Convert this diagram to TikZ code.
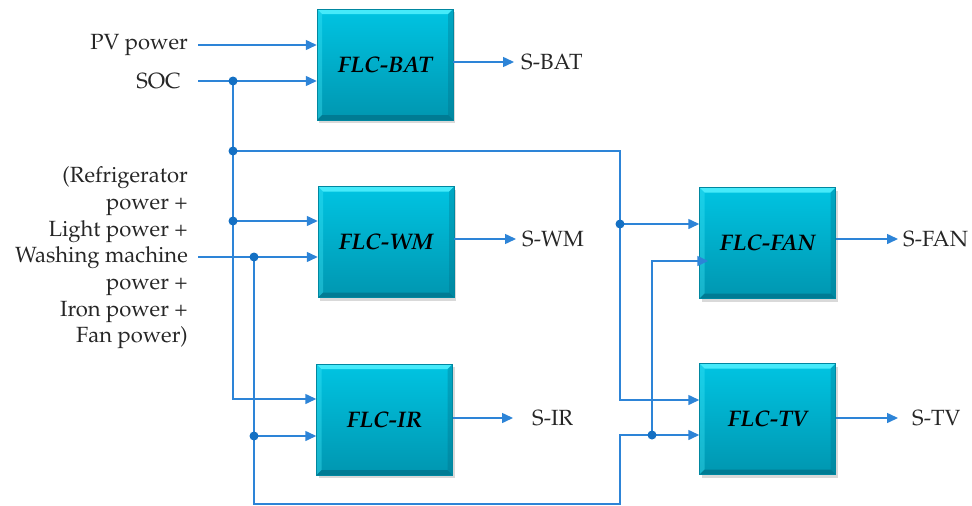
\documentclass[tikz,border=0pt]{standalone}
\usepackage[T1]{fontenc}
\renewcommand{\rmdefault}{ppl}
\usetikzlibrary{arrows.meta,shadows,calc}
\definecolor{conn}{RGB}{45,132,215}
\definecolor{dotc}{RGB}{20,112,195}
\definecolor{boxtop}{RGB}{0,196,226}
\definecolor{boxbot}{RGB}{0,150,176}
\definecolor{bevlight}{RGB}{70,234,250}
\definecolor{bevdark}{RGB}{0,105,128}
\definecolor{boxedge}{RGB}{0,135,160}
\tikzset{
 flcbox/.style={minimum width=136pt, minimum height=111pt, inner sep=0pt,
   draw=boxedge, line width=0.5pt, top color=boxtop, bottom color=boxbot,
   drop shadow={opacity=0.3,shadow xshift=2pt,shadow yshift=-3pt},
   font=\fontsize{22.5}{26}\selectfont\bfseries\itshape,
   path picture={
     \fill[bevlight] (path picture bounding box.north west) -- (path picture bounding box.north east)
        -- ([shift={(-5pt,-5pt)}]path picture bounding box.north east)
        -- ([shift={(5pt,-5pt)}]path picture bounding box.north west) -- cycle;
     \fill[bevlight, opacity=0.35] (path picture bounding box.north west)
        -- ([shift={(5pt,-5pt)}]path picture bounding box.north west)
        -- ([shift={(5pt,5pt)}]path picture bounding box.south west)
        -- (path picture bounding box.south west) -- cycle;
     \fill[bevdark, opacity=0.3] (path picture bounding box.north east)
        -- ([shift={(-5pt,-5pt)}]path picture bounding box.north east)
        -- ([shift={(-5pt,5pt)}]path picture bounding box.south east)
        -- (path picture bounding box.south east) -- cycle;
     \fill[bevdark, opacity=0.6] (path picture bounding box.south west)
        -- ([shift={(5pt,5pt)}]path picture bounding box.south west)
        -- ([shift={(-5pt,5pt)}]path picture bounding box.south east)
        -- (path picture bounding box.south east) -- cycle;
   }},
 arr/.style={conn, line width=1.5pt, -{Triangle[length=11pt,width=10pt]}},
 wire/.style={conn, line width=1.5pt},
 jdot/.style={circle, fill=dotc, inner sep=0pt, minimum size=9pt},
 lbl/.style={font=\fontsize{22}{26.7}\selectfont, inner sep=0pt, text=black!85},
}
\begin{document}
\begin{tikzpicture}[x=1pt,y=-1pt]
\useasboundingbox (0,0) rectangle (972,506);

% boxes
\node[flcbox] (bat) at (385,64.5) {FLC-BAT};
\node[flcbox] (wm) at (386,242) {FLC-WM};
\node[flcbox] (ir) at (384.5,419.5) {FLC-IR};
\node[flcbox] (fan) at (767.5,243) {FLC-FAN};
\node[flcbox] (tv) at (767.5,419) {FLC-TV};

% input labels
\node[lbl, anchor=east] (pv) at (188,45) {PV power};
\node[lbl, anchor=east] (soc) at (181,81) {SOC};
\node[lbl, anchor=east, align=right] (loads) at (188,258)
  {(Refrigerator\\power +\\Light power +\\Washing machine\\power +\\Iron power +\\Fan power)};

% output labels
\node[lbl, anchor=west] (sbat) at (521,62) {S-BAT};
\node[lbl, anchor=west] (swm) at (522,239) {S-WM};
\node[lbl, anchor=west] (sir) at (532,418) {S-IR};
\node[lbl, anchor=west] (sfan) at (903,239) {S-FAN};
\node[lbl, anchor=west] (stv) at (912,418) {S-TV};

% coordinates
\coordinate (pvs) at (198,45);
\coordinate (socs) at (198,81);
\coordinate (lds) at (198,257);
\path (bat.west) ++(0,-19.5) coordinate (batA);
\path (bat.west) ++(0,16.5) coordinate (batB);
\path (wm.west) ++(0,-21) coordinate (wmA);
\path (wm.west) ++(0,15) coordinate (wmB);
\path (ir.west) ++(0,-20.5) coordinate (irA);
\path (ir.west) ++(0,16.5) coordinate (irB);
\path (fan.west) ++(0,-19) coordinate (fanA);
\path (fan.west) ++(9,18) coordinate (fanB);
\path (tv.west) ++(0,-19) coordinate (tvA);
\path (tv.west) ++(0,16) coordinate (tvB);
\coordinate (j1) at (233,81);
\coordinate (j2) at (233,151);
\coordinate (j3) at (233,221);
\coordinate (j4) at (620,224);
\coordinate (j5) at (254,257);
\coordinate (j6) at (254,436);
\coordinate (j7) at (652,435);
\coordinate (k1) at (620,151);
\coordinate (k3) at (620,504);

% wires
\draw[arr] (pvs) -- (batA);
\draw[arr] (socs) -- (batB);
\draw[arr] (j1) |- (irA);
\draw[arr] (j2) -- (k1) |- (tvA);
\draw[arr] (j3) -- (wmA);
\draw[arr] (j4) -- (fanA);
\draw[arr] (lds) -- (wmB);
\draw[arr] (j5) |- (k3) |- (tvB);
\draw[arr] (j6) -- (irB);
\draw[arr] (j7) |- (fanB);

% outputs
\draw[arr, shorten >=7pt] (bat.east |- sbat.west) -- (sbat.west);
\draw[arr, shorten >=6pt] (wm.east |- swm.west) -- (swm.west);
\draw[arr, shorten >=19pt] (ir.east |- sir.west) -- (sir.west);
\draw[arr, shorten >=5pt] (fan.east |- sfan.west) -- (sfan.west);
\draw[arr, shorten >=14pt] (tv.east |- stv.west) -- (stv.west);

% junction dots
\foreach \j in {j1,j2,j3,j4,j5,j6,j7} \node[jdot] at (\j) {};
\end{tikzpicture}
\end{document}
